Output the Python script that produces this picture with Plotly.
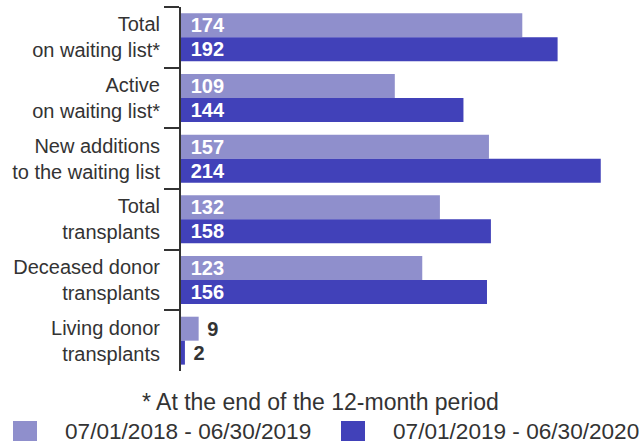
import plotly.graph_objects as go

categories = ["Total<br>on waiting list*", "Active<br>on waiting list*", "New additions<br>to the waiting list",
              "Total<br>transplants", "Deceased donor<br>transplants", "Living donor<br>transplants"]
period1_name = "07/01/2018 - 06/30/2019"
period2_name = "07/01/2019 - 06/30/2020"
period1 = [174, 109, 157, 132, 123, 9]
period2 = [192, 144, 214, 158, 156, 2]
footnote = "* At the end of the 12-month period"

c1 = "#8F8FCC"
c2 = "#4141B9"
dark = "#333333"
font = "Liberation Sans, Arial, sans-serif"

# plot area geometry (pixels)
L, R, T, B = 181, 639, 7, 371
W, H = R - L, B - T

def px_x(p):
    return (p - L) / W

def px_y(p):
    return (B - p) / H

def positions(vals):
    return ["inside" if v > 20 else "outside" for v in vals]

def templates(vals):
    return ["\u2004%{x}" if v > 20 else "\u00a0%{x}" for v in vals]

fig = go.Figure()
for name, vals, col in [(period1_name, period1, c1), (period2_name, period2, c2)]:
    fig.add_trace(go.Bar(
        y=categories, x=vals, orientation="h", name=name,
        marker=dict(color=col, line=dict(width=0)),
        texttemplate=templates(vals), textposition=positions(vals), insidetextanchor="start",
        constraintext="none",
        insidetextfont=dict(color="white", size=20, family=font, weight="bold"),
        outsidetextfont=dict(color=dark, size=20, family=font, weight="bold"),
        cliponaxis=False, showlegend=False, hoverinfo="skip",
    ))

fig.update_layout(
    width=639, height=444,
    margin=dict(l=L, r=639 - R, t=T, b=444 - B, autoexpand=False),
    paper_bgcolor="white", plot_bgcolor="white",
    barmode="group", bargap=0.21, bargroupgap=0,
    font=dict(family=font, size=20, color=dark),
    showlegend=False,
    xaxis=dict(range=[0, 233.5], visible=False, fixedrange=True),
    yaxis=dict(autorange="reversed", tickson="boundaries", ticks="outside", ticklen=15,
               tickwidth=2, tickcolor=dark, showline=True, linewidth=2, linecolor=dark,
               showgrid=False, tickfont=dict(size=20, color=dark), ticklabelstandoff=15,
               automargin=False, fixedrange=True),
)

# footnote
fig.add_annotation(text=footnote, xref="paper", yref="paper",
                   x=px_x(320), y=px_y(402), xanchor="center", yanchor="middle",
                   showarrow=False, font=dict(size=23, color=dark))

# legend (swatch + label)
for name, col, sx, tx in [(period1_name, c1, 13, 63), (period2_name, c2, 341, 391)]:
    fig.add_shape(type="rect", xref="paper", yref="paper",
                  x0=px_x(sx), x1=px_x(sx + 24), y0=px_y(441), y1=px_y(421),
                  fillcolor=col, line=dict(width=0))
    fig.add_annotation(text=name, xref="paper", yref="paper",
                       x=px_x(tx), y=px_y(431), xanchor="left", yanchor="middle",
                       showarrow=False, font=dict(size=22.6, color=dark))

fig.write_html("out.html", config={"displayModeBar": False},
               post_script="document.body.style.margin='0';document.body.style.overflow='hidden';")
